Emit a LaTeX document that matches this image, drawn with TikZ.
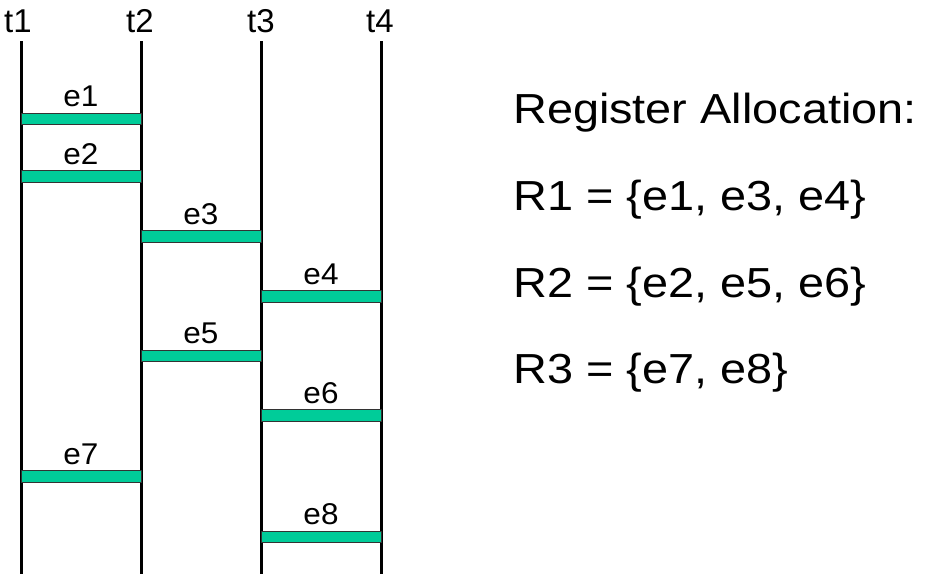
\documentclass[tikz,border=0pt]{standalone}
\usepackage{fontspec}
\usepackage{graphicx}
\setmainfont{Liberation Sans}
\definecolor{barfill}{RGB}{0,204,153}
\newcommand{\wideT}[2]{\scalebox{#1}[1]{#2}}
\begin{document}
\begin{tikzpicture}[x=1pt,y=-1pt,
  tlabel/.style={font=\fontsize{33}{36}\selectfont, anchor=base, inner sep=0pt},
  elabel/.style={font=\fontsize{30}{34}\selectfont, anchor=base, inner sep=0pt},
  timeline/.style={line width=3pt, black},
  ebar/.style={draw=black!80, line width=1pt, fill=barfill},
  alloc/.style={font=\fontsize{42}{48}\selectfont, anchor=base west, inner sep=0pt}]
\useasboundingbox (0,0) rectangle (925,574);
% time labels
\node[tlabel] (t1) at (18,32) {t1};
\node[tlabel] (t2) at (140,32) {t2};
\node[tlabel] (t3) at (261,32) {t3};
\node[tlabel] (t4) at (380,32) {t4};
% timelines
\foreach \i/\x in {1/21,2/141,3/261,4/381}{
  \coordinate (top\i) at (\x,41);
  \coordinate (bot\i) at (\x,574);
  \draw[timeline] (top\i) -- (bot\i);
}
% bars: name / x-left / x-right / y-center
\foreach \n/\xa/\xb/\y in {1/21/141/119, 2/21/141/176.5, 3/141/261/236.5, 4/261/381/296.5, 5/141/261/356, 6/261/381/415.5, 7/21/141/476.5, 8/261/381/537}{
  \node[ebar, minimum width=\xb-\xa, minimum height=11.5, inner sep=0pt, anchor=center] (b\n) at ({(\xa+\xb)/2},\y) {};
  \node[elabel] (e\n) at ({(\xa+\xb)/2},\y-12.5) {\wideT{1.05}{e\n}};
}
% allocation text
\node[alloc] (title) at (513,123) {\wideT{1.115}{Register Allocation:}};
\node[alloc] (r1) at (513,210) {\wideT{1.115}{R1 = \{e1, e3, e4\}}};
\node[alloc] (r2) at (513,297) {\wideT{1.115}{R2 = \{e2, e5, e6\}}};
\node[alloc] (r3) at (513,383) {\wideT{1.115}{R3 = \{e7, e8\}}};
\end{tikzpicture}
\end{document}
